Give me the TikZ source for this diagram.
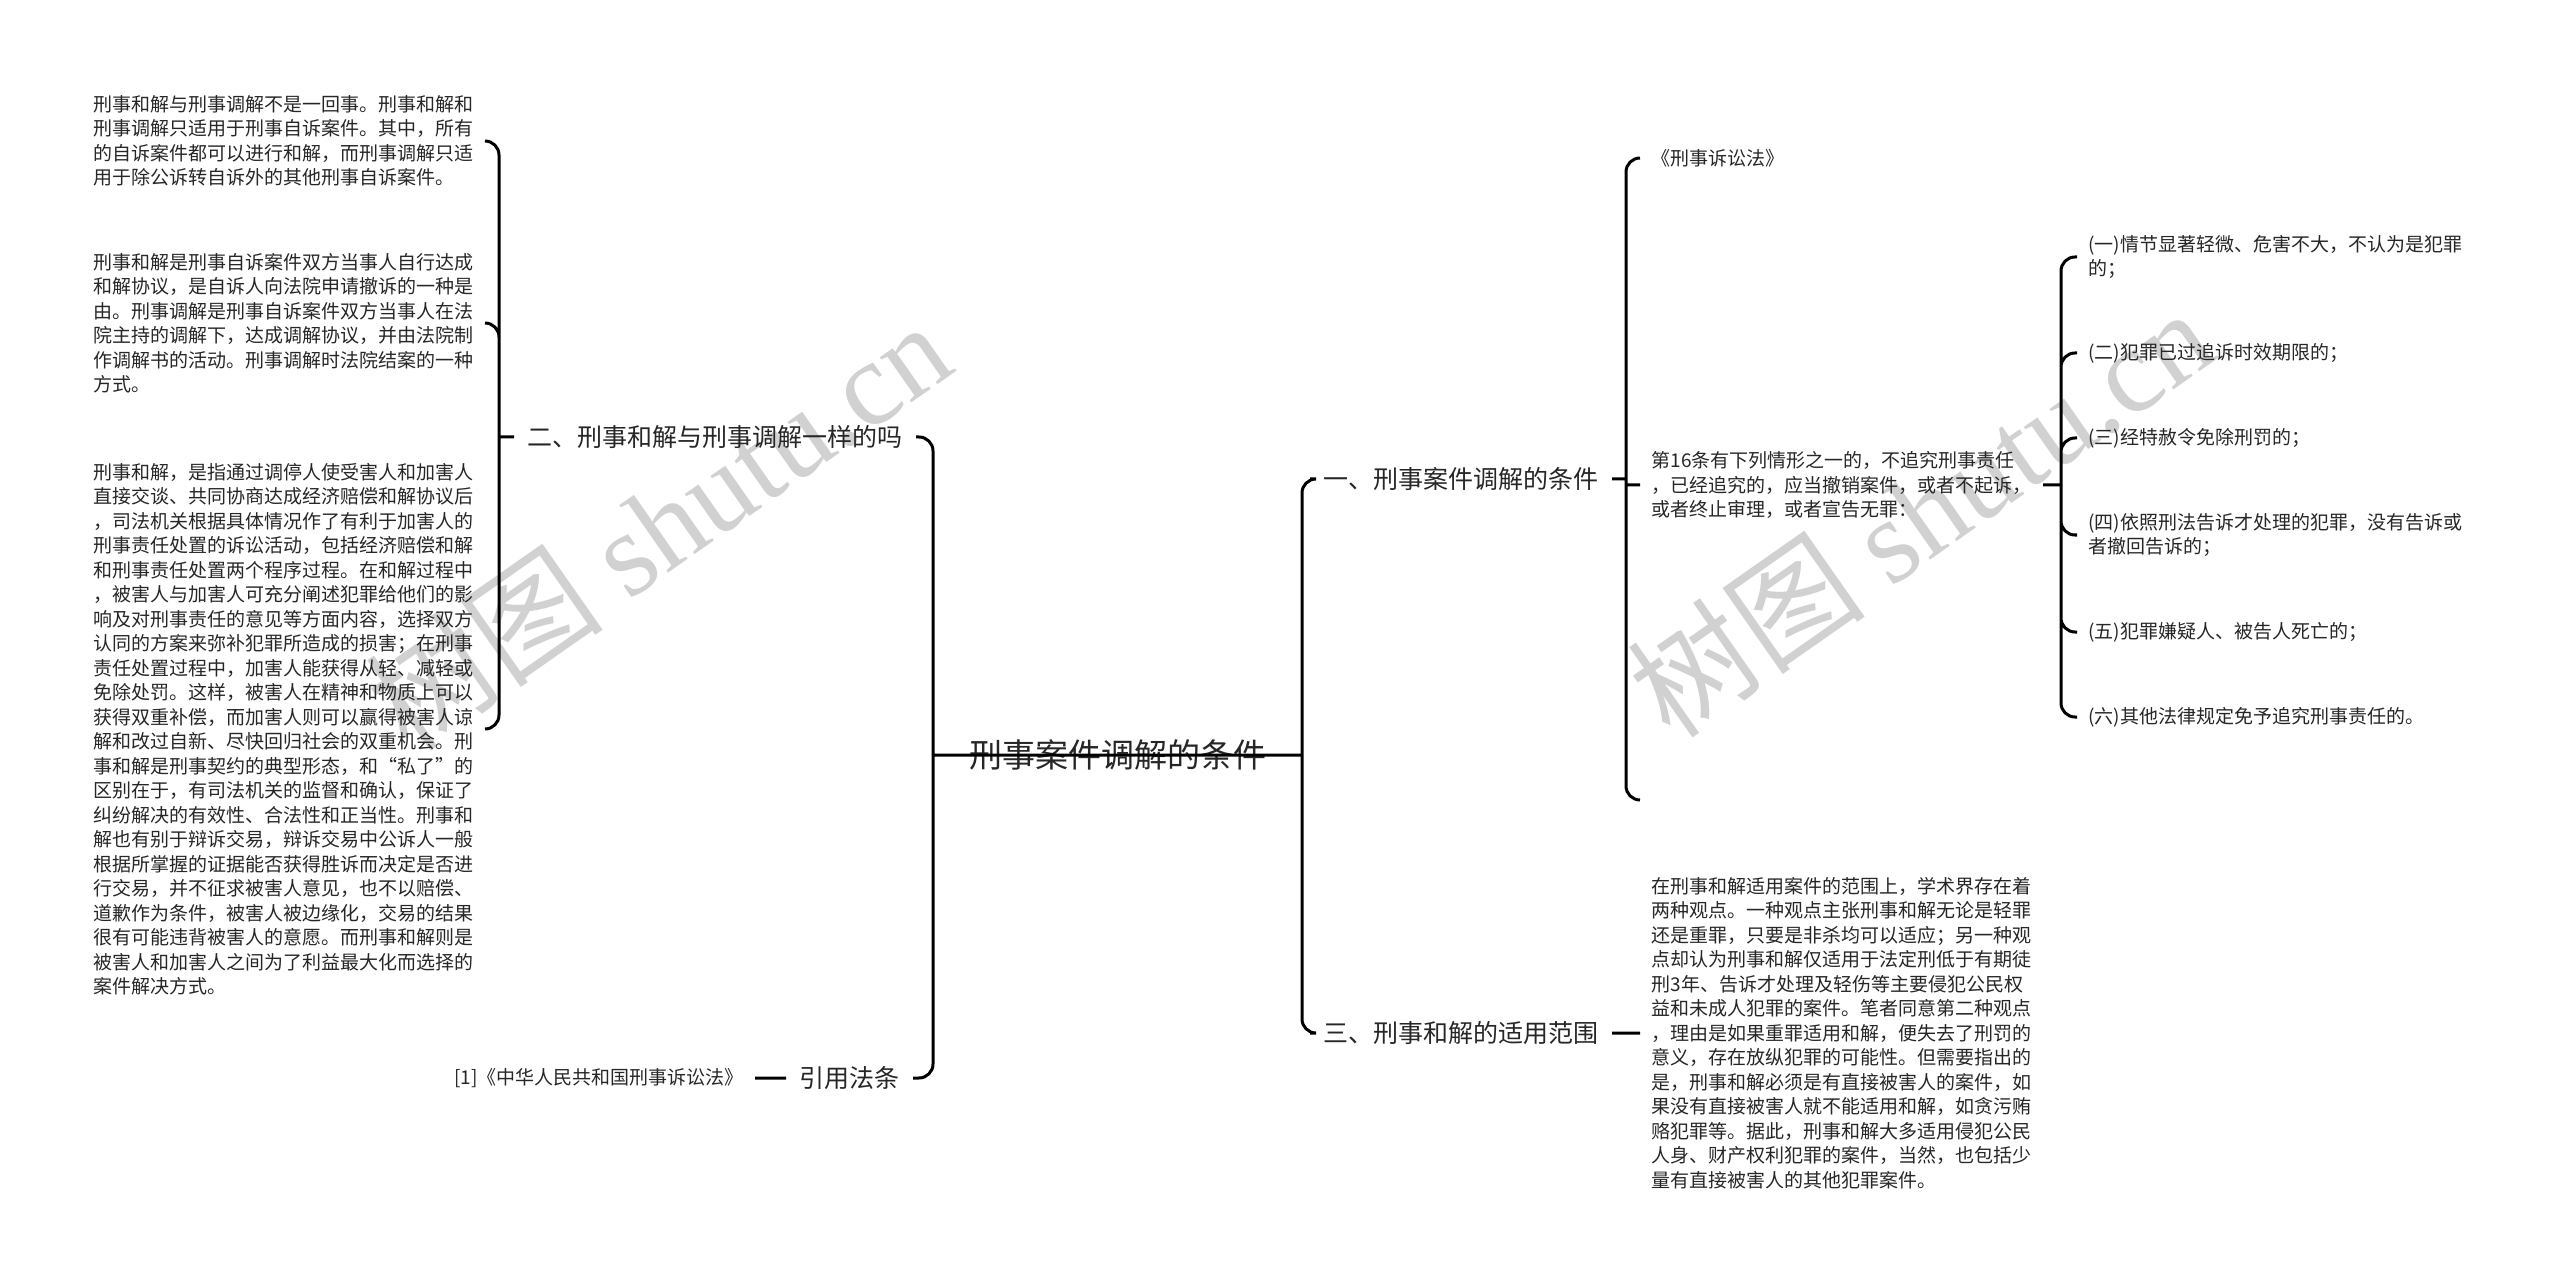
\documentclass[tikz,border=0pt]{standalone}
\usepackage{fontspec}
\setmainfont{Noto Sans CJK SC}
\newfontfamily\markfont{Liberation Serif}
\usepackage{tikz}

\begin{document}
\begin{tikzpicture}[x=0.5pt,y=-0.5pt,line width=1.5pt]
\tikzstyle{main}=[text=black!85, font=\fontsize{16.5}{20}\selectfont, inner sep=0pt, outer sep=0pt, minimum width=184.5pt]
\tikzstyle{topic}=[text=black!85, font=\fontsize{12.5}{15}\selectfont, inner sep=6pt]
\tikzstyle{note}=[text=black!85, font=\fontsize{9.5}{12.25}\selectfont, align=left, inner sep=5pt]
\tikzstyle{link}=[draw=black, rounded corners=7pt]
\tikzstyle{wmark}=[text=black!18, font=\fontsize{60}{68}\selectfont, rotate=35]
\useasboundingbox (0,0) rectangle (2560,1283);
\node[wmark] (wm1) at (658,525) {树图 {\markfont shutu.cn}};
\node[wmark] (wm2) at (1920,512) {树图 {\markfont shutu.cn}};
\node[main] (root) at (1117.5,755) {刑事案件调解的条件};
\node[topic, anchor=east] (q2) at (916,437) {二、刑事和解与刑事调解一样的吗};
\node[topic, anchor=east] (refs) at (913,1078) {引用法条};
\node[note, anchor=east] (refl) at (755,1078) {[1]《中华人民共和国刑事诉讼法》};
\node[note, anchor=east] (d1) at (485,141) {刑事和解与刑事调解不是一回事。刑事和解和\\刑事调解只适用于刑事自诉案件。其中，所有\\的自诉案件都可以进行和解，而刑事调解只适\\用于除公诉转自诉外的其他刑事自诉案件。};
\node[note, anchor=east] (d2) at (485,323) {刑事和解是刑事自诉案件双方当事人自行达成\\和解协议，是自诉人向法院申请撤诉的一种是\\由。刑事调解是刑事自诉案件双方当事人在法\\院主持的调解下，达成调解协议，并由法院制\\作调解书的活动。刑事调解时法院结案的一种\\方式。};
\node[note, anchor=east] (d3) at (485,729) {刑事和解，是指通过调停人使受害人和加害人\\直接交谈、共同协商达成经济赔偿和解协议后\\，司法机关根据具体情况作了有利于加害人的\\刑事责任处置的诉讼活动，包括经济赔偿和解\\和刑事责任处置两个程序过程。在和解过程中\\，被害人与加害人可充分阐述犯罪给他们的影\\响及对刑事责任的意见等方面内容，选择双方\\认同的方案来弥补犯罪所造成的损害；在刑事\\责任处置过程中，加害人能获得从轻、减轻或\\免除处罚。这样，被害人在精神和物质上可以\\获得双重补偿，而加害人则可以赢得被害人谅\\解和改过自新、尽快回归社会的双重机会。刑\\事和解是刑事契约的典型形态，和“私了”的\\区别在于，有司法机关的监督和确认，保证了\\纠纷解决的有效性、合法性和正当性。刑事和\\解也有别于辩诉交易，辩诉交易中公诉人一般\\根据所掌握的证据能否获得胜诉而决定是否进\\行交易，并不征求被害人意见，也不以赔偿、\\道歉作为条件，被害人被边缘化，交易的结果\\很有可能违背被害人的意愿。而刑事和解则是\\被害人和加害人之间为了利益最大化而选择的\\案件解决方式。};
\node[topic, anchor=west] (c1) at (1310,479) {一、刑事案件调解的条件};
\node[topic, anchor=west] (c3) at (1310,1033) {三、刑事和解的适用范围};
\node[note, anchor=west] (law) at (1640,158) {《刑事诉讼法》};
\node[note, anchor=west] (art) at (1640,485) {第16条有下列情形之一的，不追究刑事责任\\，已经追究的，应当撤销案件，或者不起诉，\\或者终止审理，或者宣告无罪：};
\coordinate (tail) at (1640,800);
\node[note, anchor=west] (scope) at (1640,1033) {在刑事和解适用案件的范围上，学术界存在着\\两种观点。一种观点主张刑事和解无论是轻罪\\还是重罪，只要是非杀均可以适应；另一种观\\点却认为刑事和解仅适用于法定刑低于有期徒\\刑3年、告诉才处理及轻伤等主要侵犯公民权\\益和未成人犯罪的案件。笔者同意第二种观点\\，理由是如果重罪适用和解，便失去了刑罚的\\意义，存在放纵犯罪的可能性。但需要指出的\\是，刑事和解必须是有直接被害人的案件，如\\果没有直接被害人就不能适用和解，如贪污贿\\赂犯罪等。据此，刑事和解大多适用侵犯公民\\人身、财产权利犯罪的案件，当然，也包括少\\量有直接被害人的其他犯罪案件。};
\node[note, anchor=west] (i1) at (2077,257) {(一)情节显著轻微、危害不大，不认为是犯罪\\的；};
\node[note, anchor=west] (i2) at (2077,353) {(二)犯罪已过追诉时效期限的；};
\node[note, anchor=west] (i3) at (2077,438) {(三)经特赦令免除刑罚的；};
\node[note, anchor=west] (i4) at (2077,535) {(四)依照刑法告诉才处理的犯罪，没有告诉或\\者撤回告诉的；};
\node[note, anchor=west] (i5) at (2077,632) {(五)犯罪嫌疑人、被告人死亡的；};
\node[note, anchor=west] (i6) at (2077,717) {(六)其他法律规定免予追究刑事责任的。};
\path[link] (root.west) -- (root.east)
            (root.west) |- (q2.east)
            (root.west) |- (refs.east)
            (refs.west) -- (refl.east)
            (root.east) |- (c1.west)
            (root.east) |- (c3.west)
            (c3.east) -- (scope.west);
\path[link] (q2.west) -- ++(-15,0) coordinate (j2)
            (j2) |- (d1.east)
            (j2) |- (d2.east)
            (j2) |- (d3.east);
\path[link] (c1.east) -- ++(14,0) coordinate (j1)
            (j1) |- (law.west)
            (j1) |- (tail)
            (art.west) -- (art.west -| j1);
\path[link] (art.east) -- ++(18,0) coordinate (j3)
            (j3) |- (i1.west)
            (j3) |- (i2.west)
            (j3) |- (i3.west)
            (j3) |- (i4.west)
            (j3) |- (i5.west)
            (j3) |- (i6.west);
\end{tikzpicture}
\end{document}
